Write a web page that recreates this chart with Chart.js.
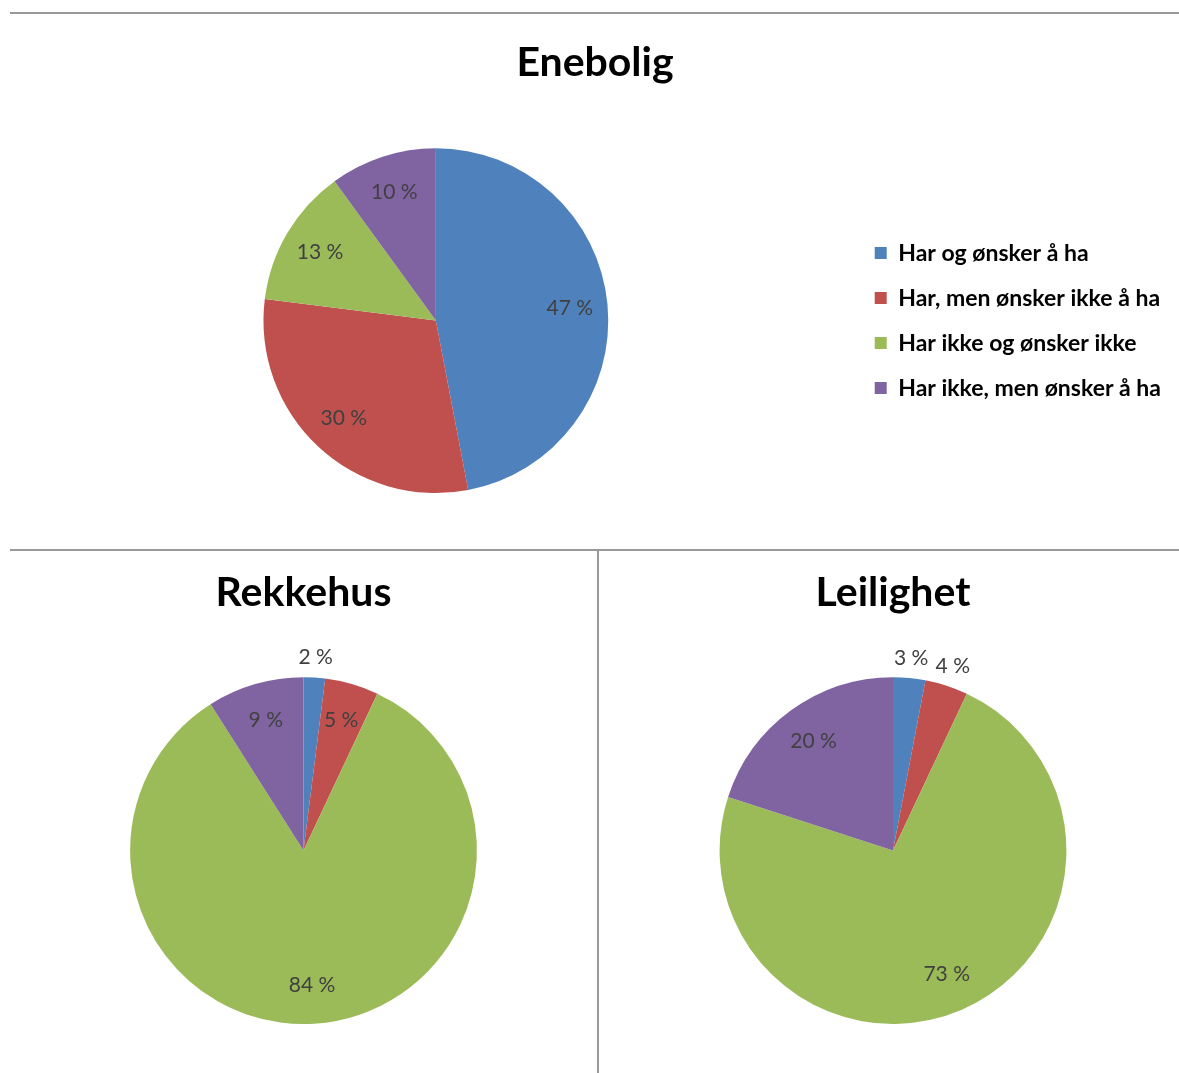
<!DOCTYPE html>
<html>
<head>
<meta charset="utf-8">
<script src="https://cdn.jsdelivr.net/npm/chart.js@4.4.1/dist/chart.umd.min.js"></script>
<style>
  body { margin: 0; background: #fff; width: 1179px; height: 1073px; position: relative; overflow: hidden; }
  .box { position: absolute; }
  .hline { position: absolute; height: 2px; background: #999; }
  .vline { position: absolute; width: 2px; background: #999; }
</style>
</head>
<body>
<div class="hline" style="left:10px; top:12px; width:1169px;"></div>
<div class="hline" style="left:10px; top:549px; width:1169px;"></div>
<div class="vline" style="left:597px; top:551px; height:522px;"></div>

<div class="box" style="left:5px; top:15px; width:1184px; height:533px;"><canvas id="eneboligChart"></canvas></div>
<div class="box" style="left:10px; top:552px; width:587px; height:521px;"><canvas id="rekkehusChart"></canvas></div>
<div class="box" style="left:599px; top:552px; width:580px; height:521px;"><canvas id="leilighetChart"></canvas></div>

<script>
const categories = ['Har og ønsker å ha', 'Har, men ønsker ikke å ha', 'Har ikke og ønsker ikke', 'Har ikke, men ønsker å ha'];
const eneboligValues = [47, 30, 13, 10];
const rekkehusValues = [2, 5, 84, 9];
const leilighetValues = [3, 4, 73, 20];
const sliceColors = ['#4F81BD', '#C0504D', '#9BBB59', '#8064A2'];

const FONT = 'Lato, "Open Sans", sans-serif';

// percentage labels: inside the slice, small slices outside the rim
const pctLabels = {
    id: 'pctLabels',
    afterDatasetsDraw(chart) {
        const ctx = chart.ctx;
        const values = chart.data.datasets[0].data;
        ctx.save();
        ctx.font = '21px ' + FONT;
        ctx.fillStyle = '#404040';
        ctx.textAlign = 'center';
        ctx.textBaseline = 'middle';
        chart.getDatasetMeta(0).data.forEach((arc, i) => {
            const p = arc.getProps(['x', 'y', 'startAngle', 'endAngle', 'outerRadius'], true);
            const mid = (p.startAngle + p.endAngle) / 2;
            const r = values[i] <= 4 ? p.outerRadius + 20 : p.outerRadius * 0.78;
            ctx.fillText(values[i] + ' %', p.x + Math.cos(mid) * r, p.y + Math.sin(mid) * r);
        });
        ctx.restore();
    }
};

function makePie(id, title, values, withLegend, padding, titlePad) {
    return new Chart(document.getElementById(id), {
        type: 'pie',
        data: {
            labels: categories,
            datasets: [{
                data: values,
                backgroundColor: sliceColors,
                borderWidth: 0,
                hoverOffset: 0
            }]
        },
        options: {
            responsive: true,
            maintainAspectRatio: false,
            animation: false,
            layout: { padding: padding },
            plugins: {
                title: {
                    display: true,
                    text: title,
                    color: '#000',
                    font: { family: FONT, size: 41, weight: 'bold', lineHeight: 1.2 },
                    padding: titlePad
                },
                legend: {
                    display: withLegend,
                    position: 'right',
                    fullSize: false,
                    labels: {
                        boxWidth: 12,
                        boxHeight: 12,
                        padding: 22,
                        color: '#000',
                        font: { family: FONT, size: 23, weight: 'bold' }
                    }
                },
                tooltip: { enabled: false }
            }
        },
        plugins: [pctLabels]
    });
}

makePie('eneboligChart', 'Enebolig', eneboligValues, true,
    { left: 14, right: 18, top: 0, bottom: 55 }, { top: 23, bottom: 61 });
makePie('rekkehusChart', 'Rekkehus', rekkehusValues, false,
    { left: 0, right: 0, top: 0, bottom: 49 }, { top: 16, bottom: 60 });
makePie('leilighetChart', 'Leilighet', leilighetValues, false,
    { left: 8, right: 0, top: 0, bottom: 49 }, { top: 16, bottom: 60 });
</script>
</body>
</html>
